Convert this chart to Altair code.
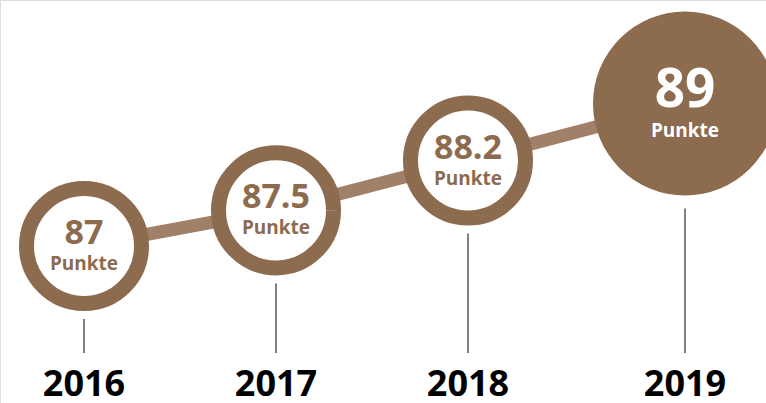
import altair as alt
import pandas as pd

years = [2016, 2017, 2018, 2019]
scores = [87, 87.5, 88.2, 89]
score_labels = ["87", "87.5", "88.2", "89"]
unit = ["Punkte", "Punkte", "Punkte", "Punkte"]
year_labels = ["2016", "2017", "2018", "2019"]

df = pd.DataFrame({"year": years, "score": scores, "label": score_labels,
                   "unit": unit, "ylab": year_labels})

BROWN = "#8c6b4e"
LINE = "#a08068"
FONT = "Open Sans"

x = alt.X("year:Q", axis=None,
          scale=alt.Scale(domain=[2016, 2018, 2019], range=[84, 468, 685], nice=False, zero=False))
y = alt.Y("score:Q", axis=None,
          scale=alt.Scale(domain=[87, 89], range=[246, 103.5], nice=False, zero=False))

base = alt.Chart(df)
small = base.transform_filter("datum.year < 2019")
big = base.transform_filter("datum.year == 2019")

line = base.mark_line(color=LINE, strokeWidth=13).encode(x=x, y=y)

rings = small.mark_point(shape="circle", filled=False, fill="white", fillOpacity=1,
                         stroke=BROWN, strokeWidth=15, opacity=1, size=13225).encode(x=x, y=y)
disc = big.mark_point(shape="circle", filled=True, fill=BROWN, fillOpacity=1,
                      strokeWidth=0, opacity=1, size=33856).encode(x=x, y=y)

stems_small = small.mark_rule(color="#555555", strokeWidth=1.5, yOffset=73).encode(
    x=x, y=y, y2=alt.value(353))
stems_big = big.mark_rule(color="#555555", strokeWidth=1.5, yOffset=105).encode(
    x=x, y=y, y2=alt.value(353))

val_small = small.mark_text(font=FONT, fontWeight="bold", fontSize=34, color=BROWN,
                            baseline="middle", dy=-12).encode(x=x, y=y, text="label:N")
unit_small = small.mark_text(font=FONT, fontWeight="bold", fontSize=19, color=BROWN,
                             baseline="middle", dy=18).encode(x=x, y=y, text="unit:N")
val_big = big.mark_text(font=FONT, fontWeight="bold", fontSize=53, color="white",
                        baseline="middle", dy=-13).encode(x=x, y=y, text="label:N")
unit_big = big.mark_text(font=FONT, fontWeight="bold", fontSize=19, color="white",
                         baseline="middle", dy=27).encode(x=x, y=y, text="unit:N")

year_text = base.mark_text(font=FONT, fontWeight="bold", fontSize=36, color="#000000",
                           baseline="middle").encode(x=x, y=alt.value(385), text="ylab:N")

chart = alt.layer(line, rings, disc, stems_small, stems_big, val_small, unit_small,
                  val_big, unit_big, year_text).properties(
    width=766, height=403, padding=0,
    autosize=alt.AutoSizeParams(type="none"),
).configure_view(stroke=None).configure(background="white")

chart.save("out.html", embed_options={"renderer": "svg", "actions": False})
